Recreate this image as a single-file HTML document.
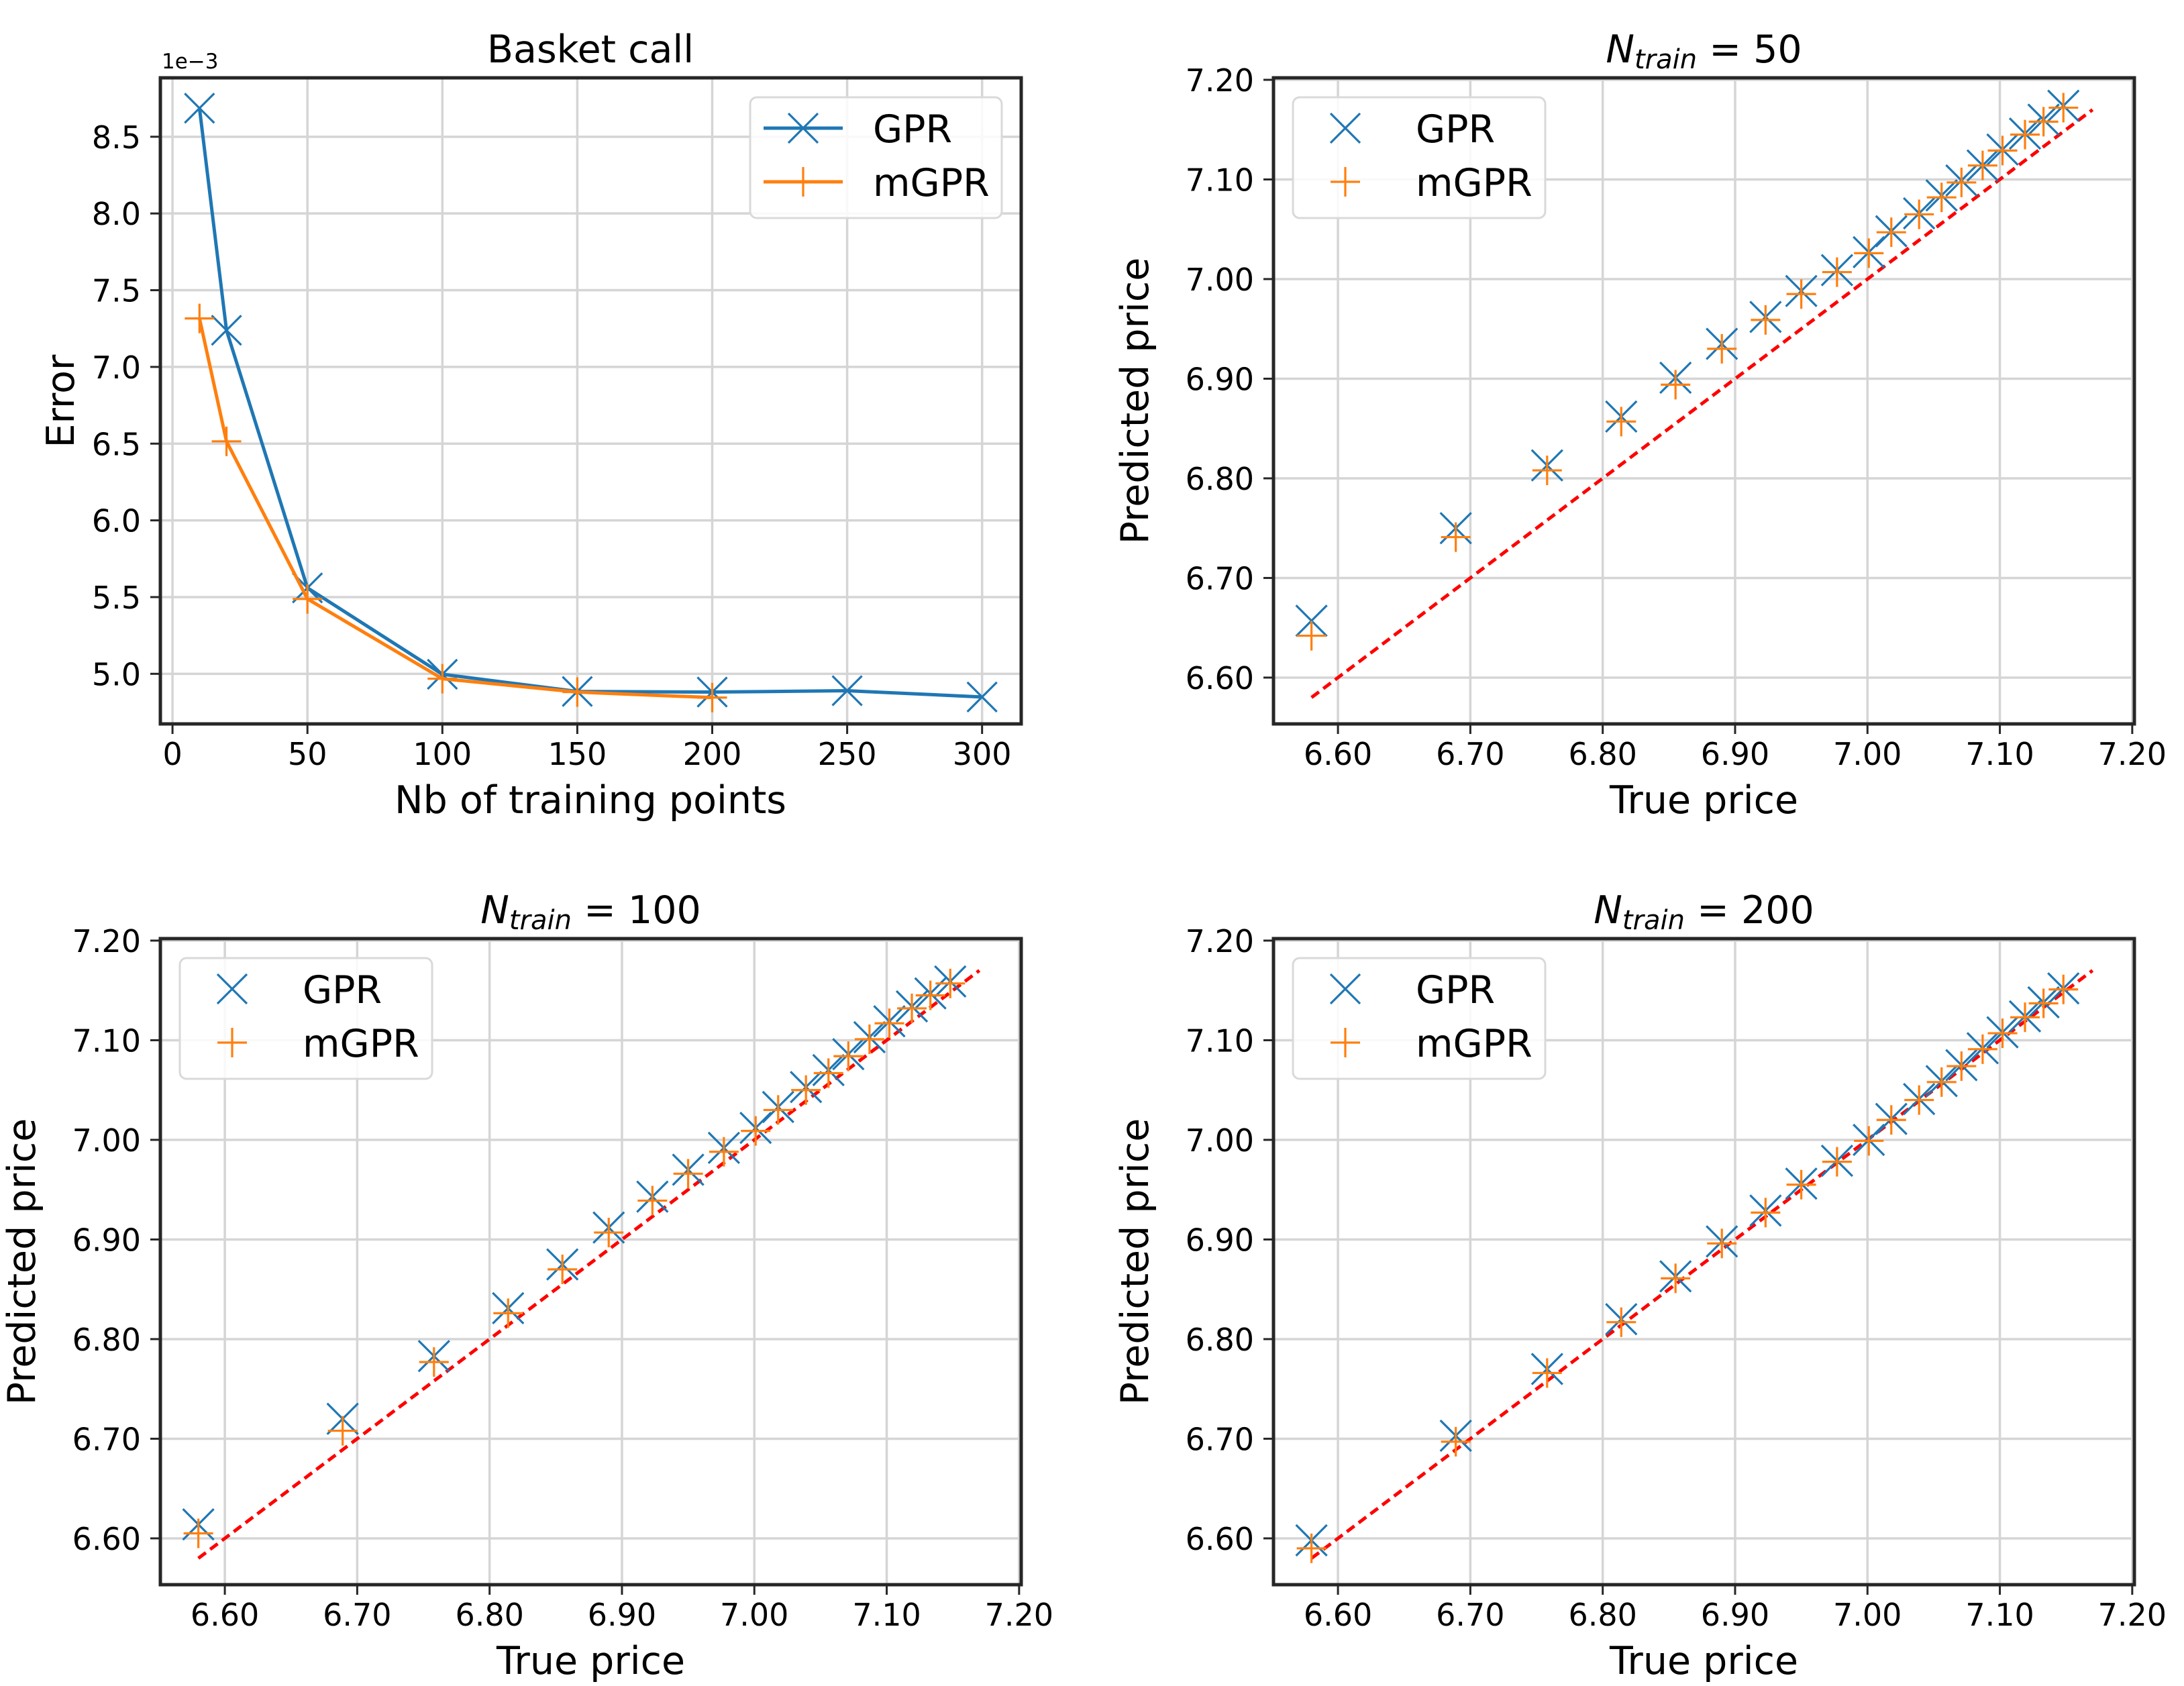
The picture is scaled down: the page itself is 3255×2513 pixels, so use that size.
<!DOCTYPE html>
<html><head><meta charset="utf-8"><style>
html,body{margin:0;padding:0;background:#fff}
svg{display:block}
text{font-family:"DejaVu Sans","Liberation Sans",sans-serif;fill:#000}
</style></head><body>
<svg id="fig" xmlns="http://www.w3.org/2000/svg" width="3255" height="2513" viewBox="0 0 3255 2513"></svg>
<script>
// ---- data ----
const nTrainGPR = [10, 20, 50, 100, 150, 200, 250, 300];
const errGPR = [8.686, 7.239, 5.56, 4.997, 4.885, 4.881, 4.89, 4.849];
const nTrainMGPR = [10, 20, 50, 100, 150, 200];
const errMGPR = [7.316, 6.515, 5.488, 4.968, 4.881, 4.845];
const errXTicks = [0, 50, 100, 150, 200, 250, 300];
const errYTicks = [5.0, 5.5, 6.0, 6.5, 7.0, 7.5, 8.0, 8.5];
const truePrice = [6.580, 6.689, 6.758, 6.814, 6.855, 6.890, 6.923, 6.950, 6.977, 7.001, 7.018, 7.039, 7.056, 7.071, 7.087, 7.102, 7.119, 7.133, 7.148];
const gpr50 = [6.657, 6.750, 6.813, 6.862, 6.901, 6.935, 6.962, 6.988, 7.009, 7.027, 7.048, 7.066, 7.084, 7.099, 7.114, 7.130, 7.146, 7.160, 7.174];
const mgpr50 = [6.642, 6.741, 6.808, 6.857, 6.894, 6.930, 6.959, 6.985, 7.007, 7.026, 7.047, 7.065, 7.082, 7.097, 7.114, 7.129, 7.145, 7.158, 7.172];
const gpr100 = [6.614, 6.720, 6.783, 6.831, 6.875, 6.912, 6.943, 6.970, 6.992, 7.012, 7.033, 7.053, 7.070, 7.086, 7.103, 7.119, 7.134, 7.147, 7.159];
const mgpr100 = [6.605, 6.708, 6.777, 6.826, 6.870, 6.907, 6.939, 6.966, 6.988, 7.009, 7.030, 7.050, 7.067, 7.084, 7.101, 7.117, 7.132, 7.145, 7.157];
const gpr200 = [6.598, 6.703, 6.770, 6.820, 6.863, 6.898, 6.929, 6.956, 6.979, 7.000, 7.021, 7.041, 7.059, 7.075, 7.092, 7.108, 7.124, 7.138, 7.152];
const mgpr200 = [6.590, 6.697, 6.766, 6.817, 6.861, 6.896, 6.927, 6.955, 6.978, 6.999, 7.020, 7.040, 7.058, 7.074, 7.091, 7.107, 7.123, 7.137, 7.151];
const priceTicks = [6.60, 6.70, 6.80, 6.90, 7.00, 7.10, 7.20];
const priceTickLabels = ["6.60", "6.70", "6.80", "6.90", "7.00", "7.10", "7.20"];
const idealLine = [6.58, 7.17];

const NS = "http://www.w3.org/2000/svg";
const svg = document.getElementById('fig');
const BLUE = "#1f77b4", ORANGE = "#ff7f0e";
function el(tag, attrs, parent, txt) {
  const e = document.createElementNS(NS, tag);
  for (const k in attrs) e.setAttribute(k, attrs[k]);
  if (txt !== undefined) e.textContent = txt;
  (parent || svg).appendChild(e);
  return e;
}
function makeAxes(box, xlim, ylim) {
  const sx = v => box.l + (v - xlim[0]) / (xlim[1] - xlim[0]) * (box.r - box.l);
  const sy = v => box.b - (v - ylim[0]) / (ylim[1] - ylim[0]) * (box.b - box.t);
  return { sx, sy };
}
function drawFrame(g, box, ax, xt, xl, yt, yl) {
  xt.forEach((v, i) => {
    const x = ax.sx(v);
    const gl = el('line', { x1: x, x2: x, y1: box.t, y2: box.b, stroke: '#d5d5d5', 'stroke-width': 3.5 }, g);
    
    
    const tk = el('line', { x1: x, x2: x, y1: box.b, y2: box.b + 15, stroke: '#262626', 'stroke-width': 3 }, g);
    
    
    const t = el('text', { x: x, y: box.b + 61, 'font-size': 46, 'text-anchor': 'middle' }, g, xl[i]);
    
    
  });
  yt.forEach((v, i) => {
    const y = ax.sy(v);
    const gl = el('line', { x1: box.l, x2: box.r, y1: y, y2: y, stroke: '#d5d5d5', 'stroke-width': 3.5 }, g);
    
    
    const tk = el('line', { x1: box.l - 15, x2: box.l, y1: y, y2: y, stroke: '#262626', 'stroke-width': 3 }, g);
    
    
    const t = el('text', { x: box.l - 29, y: y + 17, 'font-size': 46, 'text-anchor': 'end' }, g, yl[i]);
    
    
  });
}
function drawSpines(g, box) {
  const r = el('rect', { x: box.l, y: box.t, width: box.r - box.l, height: box.b - box.t, fill: 'none', stroke: '#262626', 'stroke-width': 5 }, g);
  
  
}
function xMark(g, x, y, s) {
  const p = el('path', { d: `M${x - s},${y - s}L${x + s},${y + s}M${x - s},${y + s}L${x + s},${y - s}`, stroke: BLUE, 'stroke-width': 3.2, fill: 'none' }, g);
  
  
}
function plusMark(g, x, y, s) {
  const p = el('path', { d: `M${x - s},${y}L${x + s},${y}M${x},${y - s}L${x},${y + s}`, stroke: ORANGE, 'stroke-width': 3.2, fill: 'none' }, g);
  
  
}
function legend(g, box, withLine) {
  const lg = el('g', {}, g);
  
  
  const x0 = withLine ? box.r - 404 : box.l + 29;
  const w = withLine ? 375 : 376;
  el('rect', { x: x0, y: box.t + 29, width: w, height: 180, rx: 10, fill: '#fff', 'fill-opacity': 0.85, stroke: '#d9d9d9', 'stroke-width': 3 }, lg);
  const r1 = box.t + 75, r2 = box.t + 155;
  const e1 = el('g', {}, lg);
  
  
  const e2 = el('g', {}, lg);
  
  
  if (withLine) {
    el('line', { x1: x0 + 20, x2: x0 + 138, y1: r1, y2: r1, stroke: BLUE, 'stroke-width': 5 }, e1);
    el('line', { x1: x0 + 20, x2: x0 + 138, y1: r2, y2: r2, stroke: ORANGE, 'stroke-width': 5 }, e2);
    xMark(e1, x0 + 79, r1, 22); plusMark(e2, x0 + 79, r2, 22);
    el('text', { x: x0 + 183, y: r1 + 21, 'font-size': 57 }, e1, 'GPR');
    el('text', { x: x0 + 183, y: r2 + 21, 'font-size': 57 }, e2, 'mGPR');
  } else {
    xMark(e1, x0 + 78, r1, 22); plusMark(e2, x0 + 78, r2, 22);
    el('text', { x: x0 + 183, y: r1 + 21, 'font-size': 57 }, e1, 'GPR');
    el('text', { x: x0 + 183, y: r2 + 21, 'font-size': 57 }, e2, 'mGPR');
  }
}

// ---- Panel 1: error ----
(function () {
  const g = el('g', {});
  
  
  const box = { l: 239, r: 1522, t: 116, b: 1079 };
  const ax = makeAxes(box, [-4.5, 314.5], [4.6735, 8.884]);
  drawFrame(g, box, ax, errXTicks, errXTicks.map(String), errYTicks, errYTicks.map(v => v.toFixed(1)));
  const lineG = d => d.map((v, i) => (i ? 'L' : 'M') + ax.sx(v[0]) + ',' + ax.sy(v[1])).join('');
  const pg = el('path', { d: lineG(nTrainGPR.map((n, i) => [n, errGPR[i]])), stroke: BLUE, 'stroke-width': 5, fill: 'none', 'stroke-linejoin': 'round' }, g);
  
  
  nTrainGPR.forEach((n, i) => xMark(g, ax.sx(n), ax.sy(errGPR[i]), 22));
  const pm = el('path', { d: lineG(nTrainMGPR.map((n, i) => [n, errMGPR[i]])), stroke: ORANGE, 'stroke-width': 5, fill: 'none', 'stroke-linejoin': 'round' }, g);
  
  
  nTrainMGPR.forEach((n, i) => plusMark(g, ax.sx(n), ax.sy(errMGPR[i]), 22));
  drawSpines(g, box);
  legend(g, box, true);
  const t = el('text', { x: 880, y: 93, 'font-size': 57, 'text-anchor': 'middle' }, g, 'Basket call');
  
  
  const o = el('text', { x: 241, y: 102, 'font-size': 31 }, g, '1e\u22123');
  
  
  const xl = el('text', { x: 880, y: 1212, 'font-size': 57, 'text-anchor': 'middle' }, g, 'Nb of training points');
  
  
  const yl = el('text', { x: 0, y: 0, 'font-size': 57, 'text-anchor': 'middle', transform: 'translate(110,598) rotate(-90)' }, g, 'Error');
  
  
})();

// ---- scatter panels ----
function scatterPanel(name, box, gpr, mgpr, nLabel) {
  const g = el('g', {});
  
  
  const ax = makeAxes(box, [6.5513, 7.2016], [6.5535, 7.202]);
  drawFrame(g, box, ax, priceTicks, priceTickLabels, priceTicks, priceTickLabels);
  const dl = el('line', { x1: ax.sx(idealLine[0]), y1: ax.sy(idealLine[0]), x2: ax.sx(idealLine[1]), y2: ax.sy(idealLine[1]), stroke: '#ff0000', 'stroke-width': 5, 'stroke-dasharray': '14 8' }, g);
  
  
  truePrice.forEach((v, i) => xMark(g, ax.sx(v), ax.sy(gpr[i]), 23));
  truePrice.forEach((v, i) => plusMark(g, ax.sx(v), ax.sy(mgpr[i]), 22));
  drawSpines(g, box);
  legend(g, box, false);
  const cx = (box.l + box.r) / 2;
  const t = el('text', { x: cx, y: box.t - 23, 'font-size': 57, 'text-anchor': 'middle' }, g);
  
  
  el('tspan', { 'font-style': 'italic' }, t, 'N');
  el('tspan', { 'font-style': 'italic', 'font-size': 40, dy: 9 }, t, 'train');
  el('tspan', { dy: -9 }, t, ' = ' + nLabel);
  const xl = el('text', { x: cx, y: box.b + 133, 'font-size': 57, 'text-anchor': 'middle' }, g, 'True price');
  
  
  const ylx = box.l - 187, yly = (box.t + box.b) / 2;
  const yl = el('text', { x: 0, y: 0, 'font-size': 57, 'text-anchor': 'middle', transform: `translate(${ylx},${yly}) rotate(-90)` }, g, 'Predicted price');
  
  
}
scatterPanel('ntrain-50-panel', { l: 1898, r: 3181, t: 116, b: 1079 }, gpr50, mgpr50, '50');
scatterPanel('ntrain-100-panel', { l: 239, r: 1522, t: 1399, b: 2362 }, gpr100, mgpr100, '100');
scatterPanel('ntrain-200-panel', { l: 1898, r: 3181, t: 1399, b: 2362 }, gpr200, mgpr200, '200');
</script>
</body></html>
